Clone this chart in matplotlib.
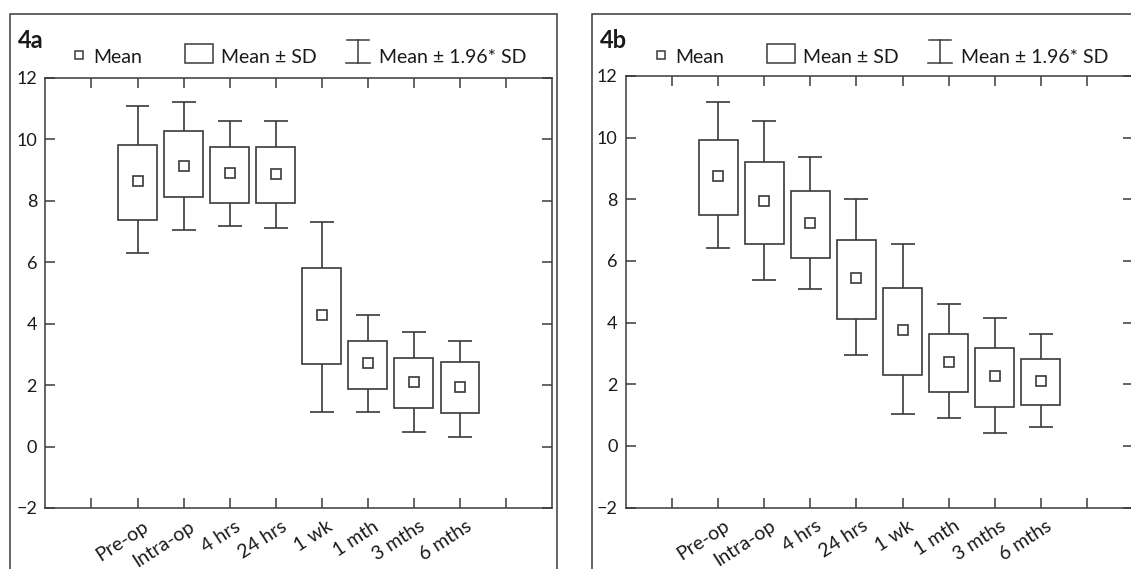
import numpy as np
import matplotlib
matplotlib.use("Agg")
import matplotlib.pyplot as plt
import matplotlib.transforms as mtrans
from matplotlib.lines import Line2D
from matplotlib.patches import Rectangle

plt.rcParams['font.family'] = ['Lato', 'DejaVu Sans']

categories = ["Pre-op", "Intra-op", "4 hrs", "24 hrs", "1 wk", "1 mth", "3 mths", "6 mths"]

# Panel 4a
a_whisk_hi = [11.09, 11.23, 10.59, 10.59, 7.32, 4.29, 3.74, 3.44]
a_box_hi   = [9.83, 10.27, 9.75, 9.75, 5.83, 3.44, 2.90, 2.74]
a_mean     = [8.65, 9.14, 8.90, 8.87, 4.29, 2.72, 2.11, 1.93]
a_box_lo   = [7.38, 8.12, 7.94, 7.92, 2.69, 1.87, 1.27, 1.10]
a_whisk_lo = [6.29, 7.06, 7.18, 7.12, 1.13, 1.12, 0.47, 0.31]

# Panel 4b
b_whisk_hi = [11.17, 10.55, 9.37, 8.01, 6.55, 4.60, 4.14, 3.62]
b_box_hi   = [9.92, 9.21, 8.26, 6.69, 5.11, 3.63, 3.17, 2.83]
b_mean     = [8.76, 7.93, 7.22, 5.45, 3.75, 2.72, 2.26, 2.11]
b_box_lo   = [7.50, 6.56, 6.08, 4.11, 2.29, 1.75, 1.26, 1.32]
b_whisk_lo = [6.42, 5.38, 5.09, 2.96, 1.03, 0.90, 0.41, 0.61]

y_ticks = [-2, 0, 2, 4, 6, 8, 10, 12]
panel_titles = ["4a", "4b"]
legend_labels = ["Mean", "Mean \u00b1 SD", "Mean \u00b1 1.96* SD"]

W, H = 1131, 569
LC = '#3a3a3a'
TC = '#1a1a1a'
fig = plt.figure(figsize=(W / 100, H / 100), dpi=100)


def fx(x):
    return x / W


def fy(y):
    return 1 - y / H


def draw_panel(rect, whi, bhi, mean, blo, wlo):
    ax = fig.add_axes(rect)
    n = len(categories)
    pos = np.arange(2, 2 + n)
    whi, bhi, mean, blo, wlo = map(np.asarray, (whi, bhi, mean, blo, wlo))
    ax.bar(pos, bhi - blo, bottom=blo, width=0.84, facecolor='white',
           edgecolor=LC, linewidth=1.2, zorder=3)
    ax.vlines(pos, bhi, whi, color=LC, linewidth=1.2, zorder=2)
    ax.vlines(pos, wlo, blo, color=LC, linewidth=1.2, zorder=2)
    ax.hlines(whi, pos - 0.26, pos + 0.26, color=LC, linewidth=1.2, zorder=2)
    ax.hlines(wlo, pos - 0.26, pos + 0.26, color=LC, linewidth=1.2, zorder=2)
    ax.plot(pos, mean, 's', ms=7.3, mfc='white', mec=LC, mew=1.2, zorder=4)
    ax.set_xlim(0, n + 3)
    ax.set_ylim(-2, 12)
    ax.set_xticks(np.arange(1, n + 3))
    ax.set_xticklabels([''] + categories + [''])
    ax.set_yticks(y_ticks)
    ax.tick_params(direction='in', top=True, right=True, length=7, width=1.1,
                   color=LC, labelsize=13, labelcolor=TC)
    ax.tick_params(axis='y', pad=6)
    ax.tick_params(axis='x', pad=7, labelsize=14)
    shift = mtrans.ScaledTranslation(5 / 100, 0, fig.dpi_scale_trans)
    for lab in ax.get_xticklabels():
        lab.set_rotation(33)
        lab.set_ha('right')
        lab.set_va('top')
        lab.set_rotation_mode('anchor')
        lab.set_transform(lab.get_transform() + shift)
    for s in ax.spines.values():
        s.set_color(LC)
        s.set_linewidth(1.1)
    return ax


def draw_header(dx, title):
    # outer frame
    fig.add_artist(Rectangle((fx(10 + dx), -0.2), (547) / W, fy(13.5) + 0.2,
                             transform=fig.transFigure, fill=False,
                             edgecolor=LC, linewidth=1.1))
    fig.text(fx(18 + dx), fy(47.5), title, fontsize=17, fontweight='bold',
             color=TC, va='baseline', ha='left')
    # small square
    fig.add_artist(Line2D([fx(79 + dx)], [fy(54.5)], marker='s', ms=5.8,
                          mfc='white', mec=LC, mew=1.1, linestyle='none',
                          transform=fig.transFigure))
    fig.text(fx(93.6 + dx), fy(63.3), legend_labels[0], fontsize=14, color=TC,
             va='baseline', ha='left')
    # big box
    fig.add_artist(Rectangle((fx(185 + dx), fy(62.8)), 27.5 / W, 19.3 / H,
                             transform=fig.transFigure, fill=False,
                             edgecolor=LC, linewidth=1.1))
    fig.text(fx(221 + dx), fy(63.3), legend_labels[1], fontsize=14, color=TC,
             va='baseline', ha='left')
    # error bar symbol
    xc = 358 + dx
    fig.add_artist(Line2D([fx(xc), fx(xc)], [fy(39.5), fy(62.7)], color=LC,
                          linewidth=1.1, transform=fig.transFigure))
    fig.add_artist(Line2D([fx(xc - 11), fx(xc + 11)], [fy(39.5), fy(39.5)],
                          color=LC, linewidth=1.1, transform=fig.transFigure))
    fig.add_artist(Line2D([fx(xc - 12), fx(xc + 12)], [fy(62.7), fy(62.7)],
                          color=LC, linewidth=1.1, transform=fig.transFigure))
    fig.text(fx(379 + dx), fy(63.3), legend_labels[2], fontsize=14, color=TC,
             va='baseline', ha='left')


draw_panel([45.4 / W, fy(508), (552 - 45.4) / W, (508 - 78) / H],
           a_whisk_hi, a_box_hi, a_mean, a_box_lo, a_whisk_lo)
draw_panel([626 / W, fy(507.5), (1133 - 626) / W, (507.5 - 76) / H],
           b_whisk_hi, b_box_hi, b_mean, b_box_lo, b_whisk_lo)
draw_header(0, panel_titles[0])
draw_header(582, panel_titles[1])

fig.savefig("out.png", dpi=100)
